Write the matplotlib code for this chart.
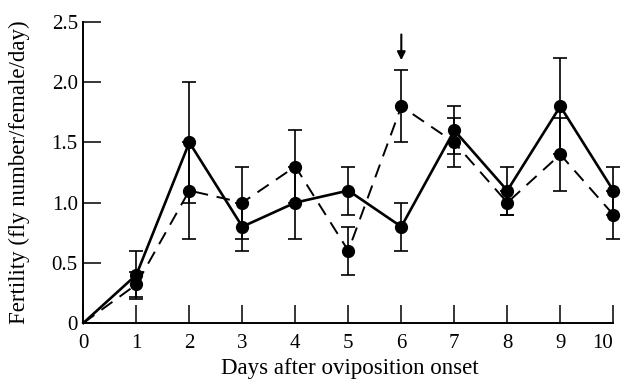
import matplotlib
matplotlib.use('Agg')
import matplotlib.pyplot as plt

plt.rcParams.update({
    'font.family': 'Liberation Serif',
    'font.size': 14,
})

days = [0, 1, 2, 3, 4, 5, 6, 7, 8, 9, 10]

# solid series
solid_mean = [0.0, 0.40, 1.50, 0.80, 1.00, 1.10, 0.80, 1.60, 1.10, 1.80, 1.10]
solid_err = [0.0, 0.20, 0.50, 0.20, 0.30, 0.20, 0.20, 0.20, 0.20, 0.40, 0.20]

# dashed series
dashed_mean = [0.0, 0.32, 1.10, 1.00, 1.30, 0.60, 1.80, 1.50, 1.00, 1.40, 0.90]
dashed_err = [0.0, 0.10, 0.40, 0.30, 0.30, 0.20, 0.30, 0.20, 0.10, 0.30, 0.20]

arrow_day = 6

fig = plt.figure(figsize=(6.22, 3.80), dpi=100)
ax = fig.add_axes([0.134, 0.15, 0.852, 0.792])

ax.errorbar(days[1:], solid_mean[1:], yerr=solid_err[1:], fmt='none',
            ecolor='black', elinewidth=1.2, capsize=5, capthick=1.2, clip_on=False)
ax.errorbar(days[1:], dashed_mean[1:], yerr=dashed_err[1:], fmt='none',
            ecolor='black', elinewidth=1.2, capsize=5, capthick=1.2, clip_on=False)

ax.plot(days, solid_mean, '-', color='black', lw=1.9, clip_on=False)
ax.plot(days, dashed_mean, color='black', lw=1.4, dashes=(7, 4.5), clip_on=False)
ax.plot(days[1:], solid_mean[1:], 'o', color='black', ms=8.5, clip_on=False, zorder=5)
ax.plot(days[1:], dashed_mean[1:], 'o', color='black', ms=8.5, clip_on=False, zorder=5)

# arrow above day 6
ax.annotate('', xy=(arrow_day, 2.16), xytext=(arrow_day, 2.42),
            arrowprops=dict(arrowstyle='-|>', color='black', lw=1.5,
                            mutation_scale=12),
            annotation_clip=False)

ax.set_xlim(0, 10)
ax.set_ylim(0, 2.5)
ax.set_xticks(range(0, 11))
ax.set_yticks([0, 0.5, 1.0, 1.5, 2.0, 2.5])
ax.set_yticklabels(['0', '0.5', '1.0', '1.5', '2.0', '2.5'])

for side in ['top', 'right']:
    ax.spines[side].set_visible(False)
for side in ['left', 'bottom']:
    ax.spines[side].set_linewidth(1.4)

ax.tick_params(axis='both', direction='in', length=13, width=1.1, labelsize=15)
ax.tick_params(axis='y', pad=4)
ax.tick_params(axis='x', pad=8)

# last day label sits flush with the end of the axis, as in the original
last_lbl = ax.get_xticklabels()[-1]
last_lbl.set_horizontalalignment('right')

ax.set_xlabel('Days after oviposition onset', fontsize=16.5)
ax.set_ylabel('Fertility (fly number/female/day)', fontsize=16.5)
ax.xaxis.set_label_coords(0.502, -0.115)
ax.yaxis.set_label_coords(-0.10, 0.5)

fig.savefig('out.png', dpi=100)
